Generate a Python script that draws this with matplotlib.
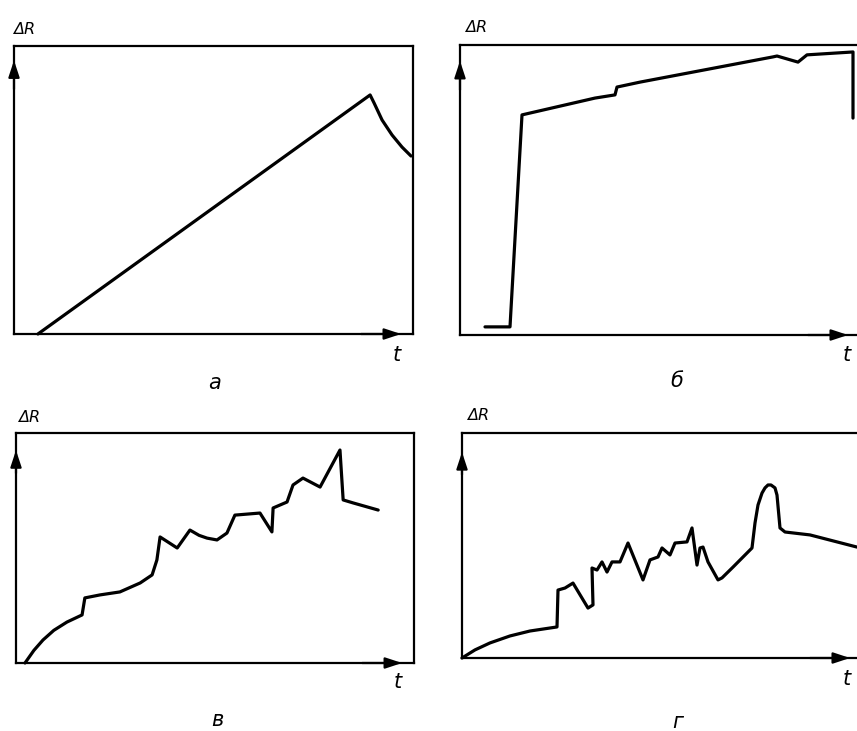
import matplotlib
matplotlib.use("Agg")
import matplotlib.pyplot as plt

plt.rcParams['font.family'] = ['DejaVu Sans']

W, H = 857, 731

# Panel а (linear growth, then decay)
t_a = [6, 89.25, 90.25, 92.25, 94.75, 97.25, 99.5]
r_a = [0, 83, 80.2, 74.3, 69.1, 64.9, 61.8]

# Panel б (jump, then slow growth, drop at end)
t_b = [6.25, 12.5, 15.5, 33.75, 38.75, 39.25, 45, 78.25, 79.25, 84.5, 86.75, 98.25, 98.25]
r_b = [2.8, 2.8, 75.9, 81.7, 82.8, 85.5, 87.2, 95.9, 96.2, 94.1, 96.6, 97.6, 74.8]

# Panel в (stepwise growth)
t_v = [2.26, 4.5, 6.78, 9.5, 12.8, 16.6, 17.3, 21.1, 26.1, 31.2, 34.2, 35.4, 36.2, 40.5, 43.7,
       46, 48, 50.5, 53, 55, 61.3, 64.3, 64.6, 68.1, 69.6, 72.1, 76.4, 81.4, 82.2, 84.7, 91]
r_v = [0, 5.5, 10, 14.2, 17.8, 20.9, 28.3, 29.6, 30.9, 34.8, 38.3, 44.8, 54.8, 50, 57.8,
       55.5, 54.3, 53.5, 56.5, 64.3, 65.2, 57, 67.4, 70, 77.4, 80.4, 76.5, 92.6, 70.9, 69.6, 66.5]

# Panel г (noisy growth, peak, decay)
t_g = [0, 3.25, 7, 12, 17, 23.75, 24, 25.75, 27.75, 31.5, 32.75, 32.5, 33.75, 35, 36.25, 37.5,
       39.5, 41.5, 45.25, 47, 49, 50, 52, 53.25, 56.25, 57.5, 58.75, 59.5, 60.25, 61.5, 64,
       65, 67.75, 72.5, 73.25, 74, 75, 75.75, 76.5, 77.25, 78.25, 78.75, 79.5, 80.75, 87, 98.75]
r_g = [0, 3.6, 6.7, 9.8, 12, 13.8, 30.2, 31.1, 33.3, 22.2, 23.6, 40, 39.1, 42.7, 38.2, 42.7,
       42.7, 51.1, 34.7, 43.6, 44.9, 48.9, 45.8, 51.1, 51.6, 57.8, 41.3, 48.9, 49.3, 42.7, 34.7,
       35.6, 40.4, 48.9, 60, 68, 73.3, 75.6, 76.9, 76.9, 75.6, 72.4, 57.8, 56, 54.7, 49.3]

ylabel = "ΔR"
xlabel = "t"
panel_labels = ["а", "б", "в", "г"]

# frames: left, top, right, bottom in pixels
frames = [(14, 46, 413, 334), (460, 45, 860, 335), (16, 433, 414, 663), (462, 433, 862, 658)]
curves = [(t_a, r_a), (t_b, r_b), (t_v, r_v), (t_g, r_g)]
ylab_pos = [(13, 30), (465, 27), (18, 417), (467, 416)]
xlab_pos = [(397, 355), (847, 355), (398, 682), (847, 679)]
plab_pos = [(215, 383), (677, 381), (217, 720), (678, 722)]
yarrow_tip = [95, 94.5, 92.5, 91.5]
xarrow_tip = [97, 97, 97, 97]

fig = plt.figure(figsize=(W / 100, H / 100), dpi=100)

for i in range(4):
    l, tp, r, b = frames[i]
    ax = fig.add_axes([l / W, 1 - b / H, (r - l) / W, (b - tp) / H])
    ax.set_xlim(0, 100)
    ax.set_ylim(0, 100)
    for s in ax.spines.values():
        s.set_linewidth(1.6)
        s.set_color('black')
    ax.set_xticks([])
    ax.set_yticks([])
    x, y = curves[i]
    ax.plot(x, y, color='black', lw=2.3, solid_joinstyle='round', solid_capstyle='round',
            clip_on=False)
    ax.annotate('', xy=(0, yarrow_tip[i]), xytext=(0, yarrow_tip[i] - 10),
                arrowprops=dict(arrowstyle='-|>,head_length=1.0,head_width=0.33',
                                color='black', lw=1.6, shrinkA=0, shrinkB=0),
                annotation_clip=False)
    ax.annotate('', xy=(xarrow_tip[i], 0), xytext=(xarrow_tip[i] - 10, 0),
                arrowprops=dict(arrowstyle='-|>,head_length=1.0,head_width=0.33',
                                color='black', lw=1.6, shrinkA=0, shrinkB=0),
                annotation_clip=False)

    fig.text(ylab_pos[i][0] / W, 1 - ylab_pos[i][1] / H, ylabel, fontsize=11.5,
             style='italic', ha='left', va='center')
    fig.text(xlab_pos[i][0] / W, 1 - xlab_pos[i][1] / H, xlabel, fontsize=15,
             style='italic', ha='center', va='center')
    fig.text(plab_pos[i][0] / W, 1 - plab_pos[i][1] / H, panel_labels[i], fontsize=15,
             style='italic', ha='center', va='center')

fig.savefig('out.png', dpi=100)
